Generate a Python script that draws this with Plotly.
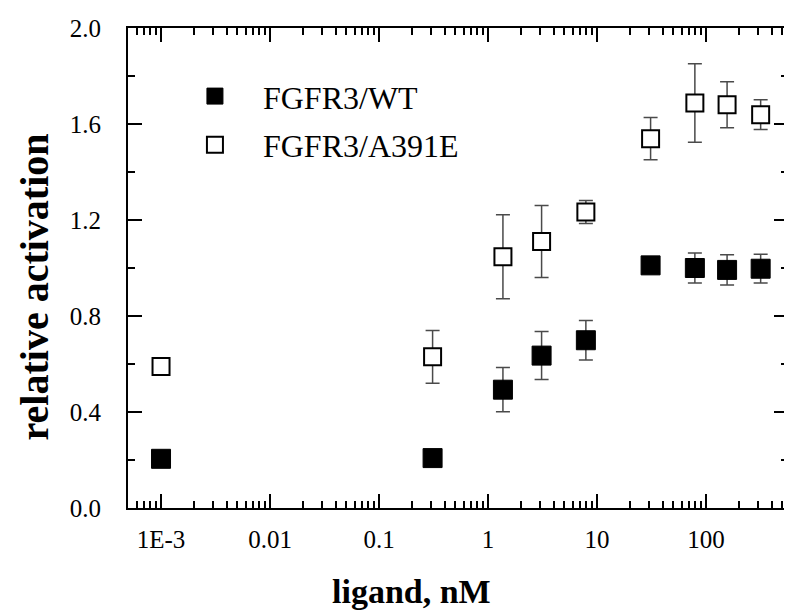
import plotly.graph_objects as go

ligand_nM = [0.001, 0.31, 1.37, 3.1, 7.9, 31, 79, 156, 317]
wt_activation = [0.205, 0.208, 0.493, 0.635, 0.699, 1.011, 1.0, 0.992, 0.997]
wt_error = [0, 0, 0.092, 0.10, 0.082, 0, 0.0625, 0.063, 0.06]
mut_activation = [0.59, 0.63, 1.047, 1.11, 1.233, 1.539, 1.6875, 1.68, 1.639]
mut_error = [0, 0.11, 0.175, 0.15, 0.048, 0.088, 0.164, 0.096, 0.062]

x_tick_vals = [0.001, 0.01, 0.1, 1, 10, 100]
x_tick_text = ["1E-3", "0.01", "0.1", "1", "10", "100"]
y_tick_vals = [0.0, 0.4, 0.8, 1.2, 1.6, 2.0]
y_tick_text = ["0.0", "0.4", "0.8", "1.2", "1.6", "2.0"]

minor_x = [m * 10.0 ** e for e in range(-4, 4) for m in range(2, 10)]

FONT = "Liberation Serif"
err_color = "#4a4a4a"

fig = go.Figure()
fig.add_trace(go.Scatter(
    x=ligand_nM, y=wt_activation, mode="markers", name="FGFR3/WT", legendgroup="wt",
    marker=dict(symbol="square", size=19, color="black", line=dict(color="black", width=1)),
    error_y=dict(type="data", array=wt_error, visible=True, color=err_color, thickness=1.5, width=7),
))
fig.add_trace(go.Scatter(
    x=ligand_nM, y=mut_activation, mode="markers", name="FGFR3/A391E", legendgroup="mut",
    marker=dict(symbol="square", size=17, color="white", line=dict(color="black", width=2)),
    error_y=dict(type="data", array=mut_error, visible=True, color=err_color, thickness=1.5, width=7),
))

fig.update_layout(
    width=792, height=616,
    margin=dict(l=120, r=12, t=20, b=116, autoexpand=False),
    paper_bgcolor="white", plot_bgcolor="white",
    font=dict(family=FONT, color="black", size=25),
    showlegend=True,
    legend=dict(x=0.059, y=0.915, xanchor="left", yanchor="top",
                font=dict(family=FONT, size=32, color="black"),
                bgcolor="rgba(0,0,0,0)", itemwidth=86, tracegroupgap=4),
    xaxis=dict(
        type="log", range=[-3.303, 2.752], automargin=False,
        tickmode="array", tickvals=x_tick_vals, ticktext=x_tick_text,
        ticks="inside", ticklen=14, tickwidth=2, tickcolor="black",
        minor=dict(tickmode="array", tickvals=minor_x, ticks="inside", ticklen=7,
                   tickwidth=2, tickcolor="black", showgrid=False),
        showline=True, linewidth=2, linecolor="black", mirror="ticks",
        showgrid=False, zeroline=False, ticklabelstandoff=8,
        tickfont=dict(family=FONT, size=25, color="black"),
    ),
    yaxis=dict(
        range=[0, 2.0], automargin=False,
        tickmode="array", tickvals=y_tick_vals, ticktext=y_tick_text,
        ticks="inside", ticklen=14, tickwidth=2, tickcolor="black",
        minor=dict(dtick=0.2, ticks="inside", ticklen=7, tickwidth=2,
                   tickcolor="black", showgrid=False),
        showline=True, linewidth=2, linecolor="black", mirror="ticks",
        showgrid=False, zeroline=False, ticklabelstandoff=20,
        tickfont=dict(family=FONT, size=25, color="black"),
    ),
    annotations=[
        dict(text="<b>ligand, nM</b>", xref="paper", yref="paper",
             x=0.429, y=-0.173, xanchor="center", yanchor="middle",
             showarrow=False, font=dict(family=FONT, size=34, color="black")),
        dict(text="<b>relative activation</b>", xref="paper", yref="paper",
             x=-0.141, y=0.4615, xanchor="center", yanchor="middle", textangle=-90,
             showarrow=False, font=dict(family=FONT, size=40, color="black")),
    ],
)

fig.write_html("out.html")
